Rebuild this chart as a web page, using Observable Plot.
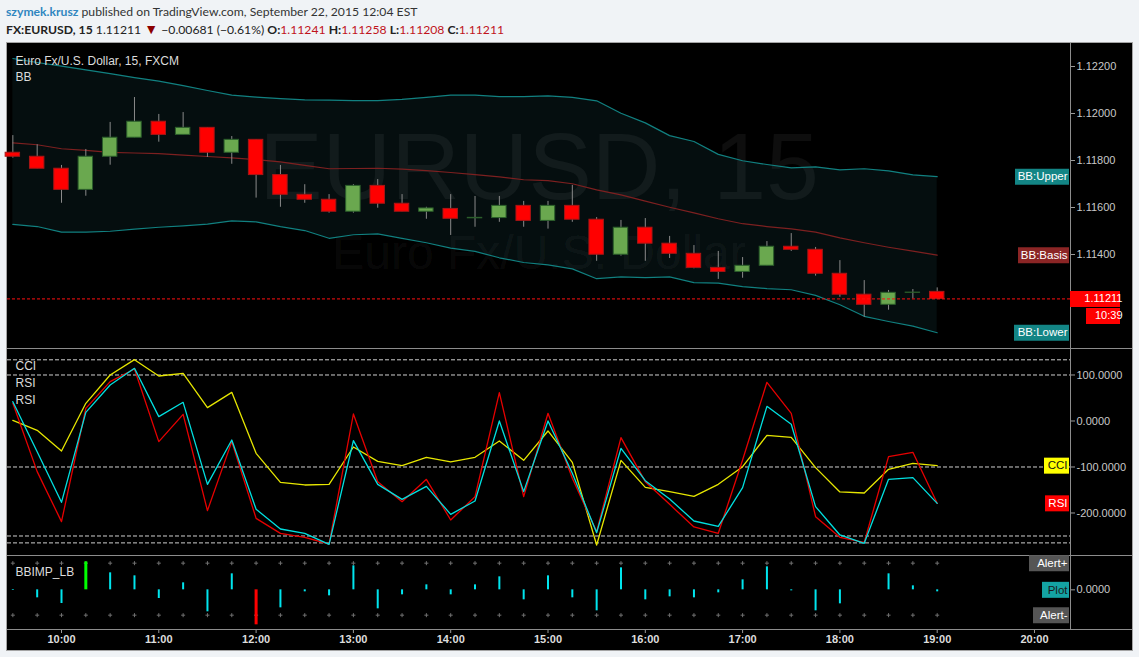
<!DOCTYPE html>
<html><head><meta charset="utf-8">
<script src="https://cdn.jsdelivr.net/npm/d3@7"></script>
<script src="https://cdn.jsdelivr.net/npm/@observablehq/plot@0.6"></script>
<style>
html,body{margin:0;padding:0}
body{background:#f0f3f6;width:1139px;height:657px;overflow:hidden;position:relative;font-family:Lato,"Liberation Sans",sans-serif}
.hdr{position:absolute;left:6px;font-size:12.2px;line-height:16px;color:#333;white-space:nowrap}
#h1{top:4px}
#h2{top:22px;color:#222}
.user{color:#2f86c0;font-weight:bold}
.b{font-weight:bold;color:#222}
.r{color:#c0141c}
.tri{color:#8b0000;font-size:14px;line-height:12px}
#chart{position:absolute;left:6px;top:42px;width:1125px;height:607px;border:1px solid #a4a4a4;background:#000}
.pane{position:absolute;left:0;width:1125px}
.pane.sep{border-top:1px solid #8c8c8c}
#p1{top:0;height:305px}
#p2{top:305px;height:206px}
#p3{top:512px;height:73px}
#p4{top:586px;height:20px}
</style></head>
<body>
<div class="hdr" id="h1"><span class="user">szymek.krusz</span> published on TradingView.com, September 22, 2015 12:04 EST</div>
<div class="hdr" id="h2"><span class="b">FX:EURUSD, 15</span> 1.11211 <span class="tri">&#9660;</span> &#8722;0.00681 (&#8722;0.61%) <span class="b">O:</span><span class="r">1.11241</span> <span class="b">H:</span><span class="r">1.11258</span> <span class="b">L:</span><span class="r">1.11208</span> <span class="b">C:</span><span class="r">1.11211</span></div>
<div id="chart">
  <div class="pane" id="p1"></div>
  <div class="pane sep" id="p2"></div>
  <div class="pane sep" id="p3"></div>
  <div class="pane sep" id="p4"></div>
</div>
<script>
// ---------- DATA ----------
const times = ["09:30","09:45","10:00","10:15","10:30","10:45","11:00","11:15","11:30","11:45","12:00","12:15","12:30","12:45","13:00","13:15","13:30","13:45","14:00","14:15","14:30","14:45","15:00","15:15","15:30","15:45","16:00","16:15","16:30","16:45","17:00","17:15","17:30","17:45","18:00","18:15","18:30","18:45","19:00"];
const open  = [1.11833,1.11816,1.11765,1.11675,1.11816,1.11897,1.11965,1.11909,1.11939,1.11833,1.11888,1.11738,1.11654,1.11633,1.11582,1.11692,1.11616,1.11582,1.11594,1.11554,1.11555,1.11607,1.11543,1.11607,1.11548,1.11399,1.11514,1.11446,1.11403,1.11343,1.11326,1.11352,1.11433,1.11420,1.11318,1.11229,1.11186,1.11237,1.11241];
const high  = [1.11906,1.11867,1.11779,1.11847,1.11962,1.12068,1.11996,1.12004,1.11939,1.11902,1.11888,1.11779,1.11697,1.11655,1.11697,1.11719,1.11655,1.11601,1.11655,1.11647,1.11647,1.11626,1.11626,1.11694,1.11557,1.11545,1.11553,1.11477,1.11438,1.11413,1.11387,1.11455,1.11489,1.11430,1.11374,1.11289,1.11247,1.11251,1.11258];
const low   = [1.11810,1.11765,1.11618,1.11648,1.11780,1.11897,1.11878,1.11909,1.11813,1.11784,1.11640,1.11601,1.11618,1.11576,1.11576,1.11597,1.11582,1.11550,1.11481,1.11516,1.11537,1.11516,1.11508,1.11537,1.11371,1.11393,1.11371,1.11383,1.11339,1.11294,1.11299,1.11352,1.11413,1.11308,1.11218,1.11133,1.11163,1.11211,1.11208];
const close = [1.11816,1.11765,1.11675,1.11816,1.11897,1.11965,1.11909,1.11939,1.11833,1.11888,1.11738,1.11654,1.11633,1.11582,1.11692,1.11616,1.11582,1.11596,1.11552,1.11556,1.11607,1.11543,1.11607,1.11548,1.11399,1.11514,1.11446,1.11403,1.11343,1.11326,1.11352,1.11433,1.11420,1.11318,1.11229,1.11186,1.11237,1.11238,1.11211];
const bbUpper = [1.12234,1.12217,1.12202,1.12186,1.12170,1.12153,1.12138,1.12119,1.12098,1.12078,1.12070,1.12063,1.12058,1.12057,1.12055,1.12055,1.12060,1.12069,1.12078,1.12078,1.12072,1.12072,1.12075,1.12069,1.12054,1.12001,1.11960,1.11906,1.11881,1.11826,1.11799,1.11783,1.11769,1.11773,1.11760,1.11765,1.11756,1.11739,1.11731];
const bbBasis = [1.11875,1.11867,1.11850,1.11843,1.11835,1.11832,1.11829,1.11823,1.11817,1.11811,1.11804,1.11794,1.11779,1.11765,1.11766,1.11767,1.11763,1.11757,1.11749,1.11740,1.11730,1.11718,1.11714,1.11701,1.11675,1.11654,1.11627,1.11601,1.11577,1.11552,1.11531,1.11519,1.11509,1.11495,1.11471,1.11450,1.11431,1.11414,1.11397];
const bbLower = [1.11528,1.11519,1.11495,1.11495,1.11499,1.11508,1.11516,1.11522,1.11529,1.11543,1.11539,1.11519,1.11502,1.11469,1.11484,1.11488,1.11469,1.11450,1.11427,1.11413,1.11386,1.11366,1.11356,1.11339,1.11297,1.11305,1.11302,1.11305,1.11280,1.11278,1.11263,1.11255,1.11250,1.11226,1.11186,1.11137,1.11115,1.11095,1.11067];
const rsiRed  = [38.4,-110.1,-218.8,27.5,85.5,113.0,-44.9,14.5,-194.9,-44.9,-211.6,-244.2,-252.9,-267.4,15.2,-131.9,-175.4,-126.8,-215.2,-164.5,61.6,-164.5,16.7,-124.6,-240.6,-36.2,-131.9,-181.2,-230.4,-244.2,-84.8,84.1,16.7,-208.0,-252.9,-263.8,-77.5,-68.1,-179.0];
const rsiCyan = [42.0,-66.7,-176.8,18.8,78.3,114.5,9.4,40.6,-137.7,-41.3,-192.0,-234.8,-244.2,-268.1,-42.8,-137.7,-170.3,-142.0,-202.9,-173.9,0.0,-153.6,0.0,-113.8,-242.8,-59.4,-129.7,-169.6,-217.4,-229.0,-144.9,31.9,-7.2,-186.2,-247.8,-265.9,-126.8,-123.2,-179.0];
const cci     = [1.4,-20.3,-65.2,38.4,100.0,133.3,97.8,103.6,29.0,62.3,-70.3,-133.3,-139.1,-137.7,-56.5,-87.7,-97.1,-79.0,-89.1,-79.0,-43.5,-85.5,-21.7,-89.9,-269.6,-85.5,-144.2,-153.6,-163.8,-137.7,-99.3,-31.2,-35.5,-101.4,-154.3,-156.5,-105.1,-92.0,-97.1];
const indLevels = [133, 100, -100, -250, -265];
const bbimp = [-2,-24,-41,84,51,42,-26,21,-66,48,-105,-54,-6,-18,72,-57,-15,15,-15,15,39,-30,42,-24,-63,66,-30,-21,-24,-9,30,69,-3,-63,-42,0,48,12,-6];
const alertUp = 80, alertDn = -76;
const priceTicks = [1.114, 1.116, 1.118, 1.120, 1.122];
const indTicks = [100, 0, -100, -200];
const impTicks = [0];
const hourLabels = ["10:00","11:00","12:00","13:00","14:00","15:00","16:00","17:00","18:00","19:00","20:00"];
const countdown = "10:39";

// ---------- BUILD ----------
const toDate = s => new Date(Date.UTC(2015, 8, 22, +s.slice(0,2), +s.slice(3,5)));
const xDomain = [new Date(Date.UTC(2015,8,22,9,26,42)), new Date(Date.UTC(2015,8,22,20,22,12))];
const rows = times.map((t,i) => ({t: toDate(t), o: open[i], h: high[i], l: low[i], c: close[i],
  up: bbUpper[i], mid: bbBasis[i], lo: bbLower[i], red: rsiRed[i], cyan: rsiCyan[i], cci: cci[i], imp: bbimp[i]}));
const hourTicks = hourLabels.map(toDate);
const half = 4.45 * 60000;
const W = 1125, MR = 62;
const FONT = "Liberation Sans, Arial, sans-serif";
const base = {width: W, marginLeft: 0, marginRight: MR, marginTop: 0, marginBottom: 0,
  style: {background: "transparent", fontFamily: FONT, overflow: "visible"},
  x: {type: "utc", domain: xDomain, axis: null}, color: {type: "identity"}};
const axisStyle = {anchor: "right", tickSize: 4, tickPadding: 2, stroke: "#9a9a9a", fill: "#c8c8c8", fontSize: 11};
const vline = Plot.ruleX([xDomain[1]], {stroke: "#8c8c8c"});

function tag(value, text, o) {
  return [
    Plot.ruleY([value], {stroke: o.bg, strokeWidth: 16, insetLeft: o.left, insetRight: o.right ?? 1, dy: o.dy ?? 0}),
    Plot.text([value], {y: d => d, text: () => text, frameAnchor: "right", textAnchor: "end", lineAnchor: "middle",
      dx: o.tdx ?? -3, dy: o.dy ?? 0, fill: o.fg ?? "#fff", fontSize: o.fs ?? 11.5})
  ];
}
function legend(label, dy) {
  return Plot.text([label], {text: d => d, frameAnchor: "top-left", textAnchor: "start", lineAnchor: "middle", dx: 8, dy, fill: "#dcdcdc", fontSize: 12});
}
const last = rows[rows.length - 1];

// Pane 1: price + BB
const p1 = Plot.plot({...base, height: 305,
  y: {domain: [1.11, 1.122979], axis: null},
  marks: [
    Plot.areaY(rows, {x: "t", y1: "lo", y2: "up", fill: "#051011", fillOpacity: 0.9, curve: "linear"}),
    Plot.text(["EURUSD, 15"], {text: d => d, frameAnchor: "middle", lineAnchor: "bottom", dy: 3, fontSize: 95, fill: "#ffffff", fillOpacity: 0.055, fontFamily: FONT}),
    Plot.text(["Euro Fx/U.S. Dollar"], {text: d => d, frameAnchor: "middle", lineAnchor: "bottom", dy: 73, fontSize: 48, fill: "#ffffff", fillOpacity: 0.055, fontFamily: FONT}),
    Plot.lineY(rows, {x: "t", y: "up", stroke: "#118080", strokeWidth: 1.2}),
    Plot.lineY(rows, {x: "t", y: "mid", stroke: "#7d2020", strokeWidth: 1.2}),
    Plot.lineY(rows, {x: "t", y: "lo", stroke: "#118080", strokeWidth: 1.2}),
    Plot.ruleX(rows, {x: "t", y1: "l", y2: "h", stroke: "#8a8a8a"}),
    Plot.rect(rows, {x1: d => new Date(+d.t - half), x2: d => new Date(+d.t + half), y1: "o", y2: "c",
      fill: d => d.c >= d.o ? "#6aa84f" : "#ff0000", stroke: d => d.c >= d.o ? "#2b5e2b" : "#a81616"}),
    Plot.ruleY([last.c], {stroke: "#ff1010", strokeDasharray: "3,2"}),
    vline,
    Plot.axisY({...axisStyle, ticks: priceTicks, tickFormat: d => d.toFixed(5)}),
    legend("Euro Fx/U.S. Dollar, 15, FXCM", 17.5),
    legend("BB", 34),
    ...tag(last.up, "BB:Upper", {bg: "#138585", left: 1008}),
    ...tag(last.mid, "BB:Basis", {bg: "#8b2525", left: 1011}),
    ...tag(last.lo, "BB:Lower", {bg: "#138585", left: 1007}),
    ...tag(last.c, last.c.toFixed(5), {bg: "#ff0000", left: 1063, right: -50, tdx: 52, fs: 11}),
    ...tag(last.c, countdown, {bg: "#ff0000", left: 1079, right: -50, tdx: 52, dy: 17, fs: 11})
  ]
});
document.getElementById("p1").appendChild(p1);

// Pane 2: CCI / RSI
const p2 = Plot.plot({...base, height: 206,
  y: {domain: [-292.4, 155.4], axis: null},
  marks: [
    Plot.ruleY(indLevels, {stroke: "#cfcfcf", strokeDasharray: "4,2"}),
    Plot.lineY(rows, {x: "t", y: "cci", stroke: "#e6e600", strokeWidth: 1.3}),
    Plot.lineY(rows, {x: "t", y: "red", stroke: "#e60000", strokeWidth: 1.3}),
    Plot.lineY(rows, {x: "t", y: "cyan", stroke: "#00e0e0", strokeWidth: 1.3}),
    vline,
    Plot.axisY({...axisStyle, ticks: indTicks, tickFormat: d => d.toFixed(4)}),
    legend("CCI", 17), legend("RSI", 33.5), legend("RSI", 50.5),
    ...tag(last.cci, "CCI", {bg: "#ffff00", fg: "#111", left: 1037}),
    ...tag(last.red, "RSI", {bg: "#ff0000", left: 1038})
  ]
});
document.getElementById("p2").appendChild(p2);

// Pane 3: BBIMP_LB
const color = v => v > alertUp ? "#00ff00" : v < alertDn ? "#ff0000" : "#00e5ee";
const p3 = Plot.plot({...base, height: 73,
  y: {domain: [-119, 100], axis: null},
  marks: [
    Plot.dot(rows, {x: "t", y: () => alertUp, symbol: "plus", r: 1.4, stroke: "#707070", strokeWidth: 1}),
    Plot.dot(rows, {x: "t", y: () => alertDn, symbol: "plus", r: 1.4, stroke: "#707070", strokeWidth: 1}),
    Plot.ruleX(rows.filter(d => d.imp <= alertUp && d.imp >= alertDn), {x: "t", y1: 0, y2: d => d.imp, stroke: d => color(d.imp), strokeWidth: 2}),
    Plot.ruleX(rows.filter(d => d.imp > alertUp || d.imp < alertDn), {x: "t", y1: 0, y2: d => d.imp, stroke: d => color(d.imp), strokeWidth: 3}),
    vline,
    Plot.axisY({...axisStyle, ticks: impTicks, tickFormat: d => d.toFixed(4)}),
    legend("BBIMP_LB", 16),
    ...tag(alertUp, "Alert+", {bg: "#555555", left: 1022}),
    ...tag(0, "Plot", {bg: "#14a3a3", fg: "#1a1a1a", left: 1035}),
    ...tag(alertDn, "Alert-", {bg: "#555555", left: 1026})
  ]
});
document.getElementById("p3").appendChild(p3);

// Pane 4: time axis
const p4 = Plot.plot({...base, height: 20, marginBottom: 20,
  marks: [
    Plot.axisX({ticks: hourTicks, anchor: "bottom", tickSize: 3, tickPadding: 1.5,
      tickFormat: d => hourLabels[hourTicks.findIndex(h => +h === +d)], stroke: "#9a9a9a", fill: "#dddddd", fontSize: 11, fontWeight: "bold"})
  ]
});
document.getElementById("p4").appendChild(p4);
</script>
</body></html>
